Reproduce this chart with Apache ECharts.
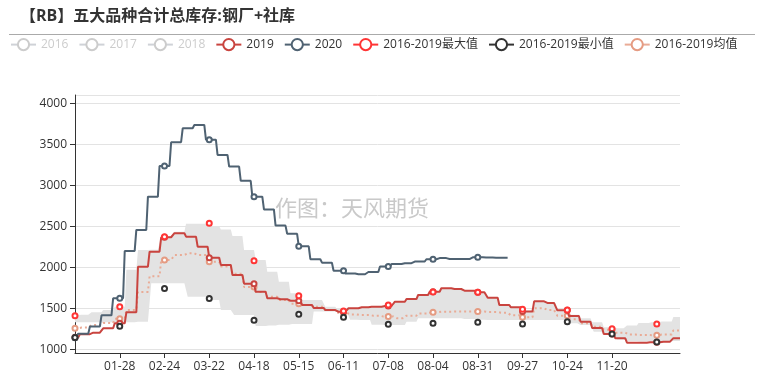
<!DOCTYPE html>
<html><head><meta charset="utf-8">
<script src="https://cdn.jsdelivr.net/npm/echarts@6/dist/echarts.min.js"></script>
<style>html,body{margin:0;padding:0;background:#fff}#c{width:761px;height:389px}</style>
</head><body><div id="c"></div>
<script>
const FONT = "'Open Sans','Noto Sans CJK SC',sans-serif";

// ---- data ----
// 2020: first value = 01-01, then weekly (Fridays from 2020-01-03)
const values2020 = [1140, 1190, 1278, 1414, 1622, 2199, 2455, 2861, 3235, 3524, 3695, 3735, 3555, 3370, 3227, 3054, 2861, 2705, 2508, 2408, 2255, 2098, 2056, 1958, 1925, 1915, 1942, 2010, 2040, 2050, 2070, 2098, 2112, 2100, 2100, 2122, 2118, 2115, 2115];
// 2019 and 2016-2019 stats: first value = 01-01, then weekly (Fridays of 2019 from 01-04)
const values2019 = [1146, 1185, 1203, 1256, 1317, 1451, 2007, 2190, 2366, 2415, 2373, 2251, 2115, 2028, 1906, 1800, 1702, 1622, 1610, 1593, 1540, 1505, 1478, 1458, 1500, 1512, 1520, 1528, 1580, 1613, 1662, 1702, 1744, 1735, 1715, 1695, 1628, 1540, 1512, 1462, 1585, 1565, 1475, 1406, 1337, 1260, 1187, 1134, 1081, 1081, 1085, 1093, 1136];
const meanValues = [1256, 1265, 1295, 1320, 1373, 1480, 1700, 1890, 2090, 2150, 2170, 2150, 2068, 2010, 1920, 1760, 1700, 1640, 1600, 1555, 1540, 1520, 1480, 1445, 1425, 1418, 1410, 1400, 1380, 1410, 1435, 1452, 1458, 1460, 1462, 1460, 1455, 1445, 1415, 1390, 1500, 1480, 1410, 1366, 1317, 1276, 1238, 1203, 1180, 1174, 1172, 1180, 1230];
const bandHigh = [1418, 1420, 1451, 1479, 1520, 1970, 2211, 2215, 2380, 2434, 2530, 2530, 2500, 2460, 2380, 2211, 2089, 1946, 1824, 1683, 1601, 1600, 1520, 1490, 1500, 1512, 1520, 1528, 1580, 1613, 1662, 1702, 1744, 1735, 1715, 1695, 1628, 1540, 1512, 1470, 1585, 1565, 1480, 1420, 1380, 1330, 1270, 1256, 1290, 1320, 1330, 1340, 1395];
const bandLow = [1330, 1330, 1330, 1330, 1330, 1330, 1337, 1805, 1805, 1805, 1642, 1642, 1601, 1479, 1418, 1418, 1284, 1290, 1300, 1309, 1309, 1460, 1460, 1460, 1360, 1357, 1300, 1296, 1296, 1337, 1378, 1378, 1378, 1378, 1370, 1360, 1357, 1357, 1357, 1357, 1357, 1357, 1357, 1317, 1296, 1215, 1200, 1120, 1100, 1095, 1095, 1095, 1100];
// 2016-2019 max / min shown at the axis label dates
const markerDates = ['01-01','01-28','02-24','03-22','04-18','05-15','06-11','07-08','08-04','08-31','09-27','10-24','11-20','12-17'];
const maxAtMarks = [1410, 1520, 2373, 2537, 2080, 1654, 1467, 1540, 1700, 1695, 1488, 1479, 1250, 1309];
const minAtMarks = [1145, 1280, 1740, 1620, 1354, 1427, 1390, 1305, 1317, 1329, 1309, 1337, 1187, 1089];
const shownLabels = ['01-28','02-24','03-22','04-18','05-15','06-11','07-08','08-04','08-31','09-27','10-24','11-20'];

// ---- calendar categories (leap year axis) ----
function mmdd(d){return String(d.getUTCMonth()+1).padStart(2,'0')+'-'+String(d.getUTCDate()).padStart(2,'0');}
const days = [];
for (let d = new Date(Date.UTC(2020,0,1)); d.getUTCFullYear() === 2020; d.setUTCDate(d.getUTCDate()+1)) days.push(mmdd(d));
function weekIdx(y, m, dd, n){const out=[];const d=new Date(Date.UTC(y,m,dd));for(let i=0;i<n;i++){out.push(days.indexOf(mmdd(d)));d.setUTCDate(d.getUTCDate()+7);}return out;}
function daily(values, weeks, lastIdx){
  const arr = new Array(days.length).fill(null);
  let cur = values[0], w = 0;
  for (let i=0;i<=lastIdx;i++){
    while (w < weeks.length && weeks[w] <= i){ cur = values[w+1]; w++; }
    arr[i] = cur;
  }
  return arr;
}
const weeks2020 = weekIdx(2020,0,3,values2020.length-1);
const weeks2019 = weekIdx(2019,0,4,values2019.length-1);
const d2020 = daily(values2020, weeks2020, weeks2020[weeks2020.length-1]);
const d2019 = daily(values2019, weeks2019, days.length-1);
const dMean = daily(meanValues, weeks2019, days.length-1);
const dLow = daily(bandLow, weeks2019, days.length-1);
const dHigh = daily(bandHigh, weeks2019, days.length-1);
const dDiff = dHigh.map((v,i)=>v-dLow[i]);
function marks(vals){const a=new Array(days.length).fill(null);markerDates.forEach((m,i)=>{a[days.indexOf(m)]=vals[i];});return a;}

const chart = echarts.init(document.getElementById('c'), null, {renderer:'canvas'});
const sym = {symbol:'emptyCircle', symbolSize:5};
chart.setOption({
  animation:false,
  textStyle:{fontFamily:FONT},
  title:{text:'【RB】五大品种合计总库存:钢厂+社库', left:20, top:8, padding:0,
    textStyle:{fontSize:16, fontWeight:'bold', color:'#333', fontFamily:FONT}},
  graphic:[
    {type:'line', shape:{x1:9,y1:34.5,x2:755,y2:34.5}, style:{stroke:'#aaa', lineWidth:1}, silent:true},
    {type:'text', left:275, top:199, z:1, silent:true, style:{text:'作图：天风期货', fontSize:22, fill:'#c9c9c9', fontFamily:FONT}}
  ],
  legend:{left:10, top:38, padding:0, itemGap:10, itemWidth:25, itemHeight:14,
    textStyle:{fontSize:12, color:'#333', fontFamily:FONT}, inactiveColor:'#ccc',
    data:['2016','2017','2018','2019','2020','2016-2019最大值','2016-2019最小值',
      {name:'2016-2019均值', lineStyle:{type:'solid'}}],
    selected:{'2016':false,'2017':false,'2018':false}},
  grid:{left:75, right:81, top:95, bottom:36, containLabel:false, outerBoundsMode:'none'},
  xAxis:{type:'category', data:days, boundaryGap:false,
    axisLine:{lineStyle:{color:'#333'}},
    axisTick:{show:true, length:5, interval:(i,v)=>shownLabels.indexOf(v)>=0, lineStyle:{color:'#333'}},
    axisLabel:{interval:26, showMinLabel:false, color:'#333', fontSize:12, margin:8, fontFamily:FONT,
      formatter:(v)=>shownLabels.indexOf(v)>=0 ? v : ''},
    splitLine:{show:false}},
  yAxis:{type:'value', min:955, max:4100, splitNumber:5,
    axisLine:{show:true, lineStyle:{color:'#333'}},
    axisTick:{show:true, length:5, lineStyle:{color:'#333'}},
    axisLabel:{color:'#333', fontSize:12, margin:8, showMinLabel:false, showMaxLabel:false, fontFamily:FONT,
      formatter:(v)=>String(v)},
    splitLine:{show:true, lineStyle:{color:'#e3e3e3'}}},
  series:[
    {name:'2016', type:'line', data:[], color:'#aaa'},
    {name:'2017', type:'line', data:[], color:'#aaa'},
    {name:'2018', type:'line', data:[], color:'#aaa'},
    {name:'bandLow', type:'line', stack:'band', data:dLow, showSymbol:false, lineStyle:{opacity:0}, silent:true, z:1},
    {name:'bandDiff', type:'line', stack:'band', data:dDiff, showSymbol:false, lineStyle:{opacity:0}, areaStyle:{color:'#e3e3e3', opacity:1}, silent:true, z:1},
    Object.assign({name:'2016-2019均值', type:'line', data:dMean, color:'#e59b82',
      lineStyle:{width:2, type:[2,3], color:'#e9ab96'}, z:3}, sym),
    Object.assign({name:'2019', type:'line', data:d2019, color:'#c9443f', lineStyle:{width:2}, z:4}, sym),
    Object.assign({name:'2020', type:'line', data:d2020, color:'#4f6272', lineStyle:{width:2}, z:5}, sym),
    Object.assign({name:'2016-2019最大值', type:'line', data:marks(maxAtMarks), color:'#ff3535', lineStyle:{width:1.5}, z:6}, sym),
    Object.assign({name:'2016-2019最小值', type:'line', data:marks(minAtMarks), color:'#333', lineStyle:{width:1.5}, z:6}, sym)
  ]
});
</script></body></html>
